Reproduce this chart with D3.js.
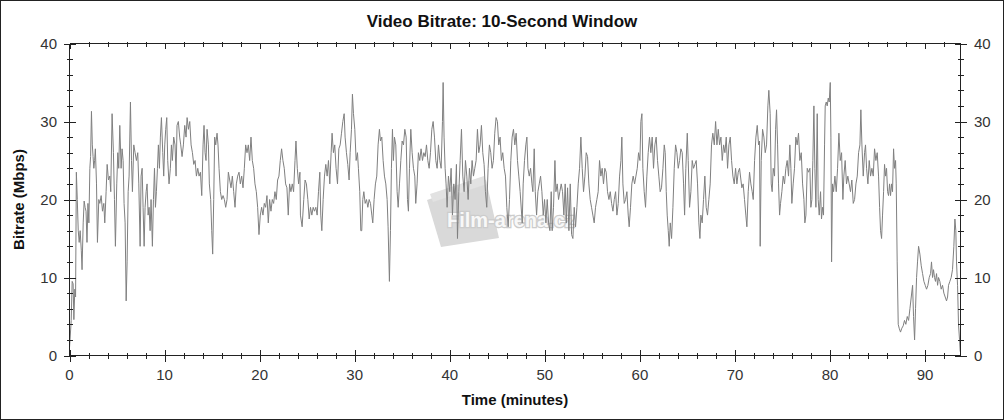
<!DOCTYPE html>
<html>
<head>
<meta charset="utf-8">
<script src="https://cdn.jsdelivr.net/npm/d3@7"></script>
<style>
  html, body { margin: 0; padding: 0; background: #fff; }
  svg { display: block; }
  text { font-family: Arial, "Liberation Sans", sans-serif; }
</style>
</head>
<body>
<svg id="chart" width="1004" height="420"></svg>
<script>
// ---------- DATA ----------
const chartTitle = "Video Bitrate: 10-Second Window";
const xLabel = "Time (minutes)";
const yLabel = "Bitrate (Mbps)";
const xTicks = [0, 10, 20, 30, 40, 50, 60, 70, 80, 90];
const yTicks = [0, 10, 20, 30, 40];
const xMax = 93.72;
const yMax = 40;

const minutes = [
0.00,0.08,0.18,0.28,0.38,0.46,0.56,0.64,0.72,0.82,0.92,1.02,1.12,1.24,1.32,1.44,1.54,1.64,1.74,1.84,1.94,2.04,2.14,2.22,2.31,2.40,2.48,2.56,2.64,2.72,2.84,2.94,
3.08,3.19,3.33,3.47,3.61,3.71,3.85,3.96,4.10,4.24,4.34,4.48,4.62,4.73,4.83,4.97,5.08,5.18,5.29,5.43,5.53,5.64,5.74,5.85,5.96,6.06,6.17,6.27,6.41,6.52,6.62,6.76,6.90,
7.04,7.18,7.29,7.43,7.53,7.64,7.74,7.85,7.95,8.06,8.16,8.27,8.37,8.48,8.58,8.72,8.83,8.94,9.04,9.14,9.25,9.35,9.46,9.56,9.67,9.81,9.91,
10.02,10.12,10.23,10.33,10.47,10.61,10.72,10.82,10.96,11.10,11.21,11.31,11.45,11.59,11.70,11.84,11.98,12.12,12.26,12.37,12.51,12.65,12.79,12.93,
13.07,13.21,13.35,13.49,13.63,13.77,13.91,14.05,14.15,14.26,14.36,14.47,14.61,14.71,14.85,14.96,15.06,15.17,15.27,15.38,15.52,15.62,15.73,15.87,
16.01,16.15,16.29,16.43,16.57,16.71,16.85,16.99,17.13,17.27,17.41,17.55,17.69,17.83,17.97,18.11,18.25,18.39,18.53,18.67,18.81,18.95,
19.09,19.23,19.37,19.51,19.65,19.79,19.93,20.07,20.21,20.35,20.49,20.63,20.77,20.91,21.05,21.19,21.33,21.47,21.61,21.75,21.89,
22.03,22.17,22.31,22.45,22.59,22.73,22.87,23.01,23.15,23.29,23.43,23.57,23.72,23.82,23.96,24.10,24.24,
24.29,24.47,24.64,24.78,24.92,25.07,25.21,25.35,25.49,25.63,25.77,25.91,26.05,26.19,26.33,26.43,26.54,26.68,26.82,26.96,
27.10,27.24,27.38,27.52,27.62,27.76,27.90,28.04,28.19,28.33,28.47,28.61,28.75,28.89,28.99,29.13,29.27,29.41,29.52,29.66,29.76,29.87,
30.01,30.15,30.29,30.39,30.53,30.64,30.74,30.85,30.96,31.10,31.24,31.38,31.52,31.66,31.80,31.90,32.04,32.18,32.32,32.46,32.60,32.71,32.85,32.99,
33.13,33.27,33.41,33.51,33.65,33.76,33.86,33.97,34.07,34.18,34.32,34.46,34.57,34.71,34.85,34.99,35.13,35.27,35.41,35.55,35.65,35.76,35.90,
36.04,36.18,36.32,36.42,36.56,36.70,36.84,36.98,37.13,37.27,37.41,37.55,37.69,37.83,37.97,38.11,38.25,38.39,38.53,38.67,38.81,38.95,
39.09,39.23,39.30,39.40,39.51,39.61,39.72,39.86,40.00,40.14,40.28,40.42,40.56,40.70,40.81,40.95,41.09,41.23,41.37,41.51,41.65,41.79,41.93,
42.07,42.21,42.35,42.49,42.63,42.77,42.91,43.05,43.19,43.33,43.47,43.61,43.75,43.89,44.03,44.17,44.31,44.45,44.59,44.73,44.87,
45.01,45.15,45.29,45.43,45.57,45.72,45.86,46.00,46.14,46.28,46.42,46.56,46.70,46.84,46.98,47.12,47.26,47.40,
47.62,47.72,47.86,48.00,48.11,48.22,48.36,48.50,48.64,48.74,48.88,48.99,49.13,49.27,49.41,49.55,49.69,49.83,49.97,
50.11,50.25,50.39,50.53,50.67,50.77,50.91,51.06,51.16,51.30,51.44,51.58,51.72,51.86,52.00,52.14,52.25,52.39,52.53,52.67,52.81,52.95,
53.09,53.23,53.37,53.51,53.65,53.79,53.93,54.07,54.21,54.35,54.49,54.63,54.77,54.91,55.05,55.19,55.33,55.47,55.61,55.75,55.89,
56.03,56.17,56.31,56.45,56.59,56.74,56.88,57.02,57.16,57.30,57.44,57.58,57.72,57.86,58.00,58.10,58.21,58.35,58.49,58.63,58.77,58.87,
59.01,59.15,59.29,59.44,59.58,59.72,59.86,60.00,60.10,60.21,60.31,60.45,60.59,60.73,60.87,61.01,61.15,61.29,61.43,61.57,61.71,61.85,61.99,
62.13,62.27,62.42,62.56,62.66,62.77,62.87,62.98,63.08,63.19,63.33,63.47,63.61,63.75,63.89,64.03,64.17,64.31,64.45,64.59,64.70,64.83,64.98,
65.08,65.22,65.36,65.50,65.64,65.78,65.92,66.06,66.20,66.31,66.41,66.55,66.69,66.83,66.97,67.11,67.25,67.39,67.53,67.67,67.82,67.96,
68.10,68.24,68.38,68.52,68.66,68.80,68.94,69.08,69.22,69.36,69.50,69.64,69.78,69.92,70.06,70.20,70.34,70.48,
70.72,70.86,71.00,71.14,71.25,71.39,71.53,71.67,71.81,71.92,72.06,72.20,72.34,72.48,72.58,72.65,72.76,72.90,
73.04,73.18,73.32,73.46,73.56,73.70,73.81,73.91,74.02,74.16,74.27,74.37,74.48,74.58,74.69,74.79,74.93,
75.07,75.21,75.35,75.49,75.63,75.77,75.88,75.98,76.12,76.26,76.40,76.54,76.68,76.82,76.97,77.11,77.25,77.35,77.46,77.60,77.74,77.88,77.98,
78.09,78.19,78.30,78.40,78.51,78.65,78.75,78.86,79.00,79.10,79.21,79.31,79.42,79.49,79.60,79.70,79.81,79.91,80.02,80.09,80.16,80.26,80.37,80.51,80.65,80.79,80.93,
81.07,81.21,81.35,81.45,81.59,81.73,81.87,82.01,82.15,82.29,82.44,82.58,82.72,82.86,83.00,83.14,83.24,83.35,83.49,83.63,83.73,83.84,83.98,
84.12,84.26,84.40,84.54,84.68,84.82,84.96,85.10,85.21,85.31,85.42,85.52,85.63,85.73,85.84,85.94,86.05,86.15,86.26,86.36,86.47,86.57,86.68,86.78,86.89,86.96,
87.06,87.17,87.27,87.41,87.55,87.69,87.83,87.97,88.12,88.26,88.40,88.54,88.68,88.78,88.89,88.99,89.10,89.20,89.31,89.45,89.59,89.73,89.87,
90.01,90.15,90.29,90.43,90.57,90.67,90.78,90.88,90.99,91.09,91.20,91.31,91.41,91.55,91.69,91.83,91.97,92.11,92.25,92.36,92.46,92.60,92.74,92.88,
93.02,93.13,93.23,93.30,93.41,93.51,93.62,93.69
];

const mbps = [
1.0,2.5,4.5,9.5,9.2,4.6,8.5,7.5,23.5,20,16,14.5,16,13.5,11,17,19.8,19,18.5,14.5,19.5,17,24,25.5,31.3,27,25.5,24,25,26.5,22,14.5,
20,19.5,20.5,18.5,19.5,17,21,24.5,22.5,23,21,31,26,20,14,22,26,24,29.5,24,26.5,25,19.5,17,7,12,21,23,32.5,25,21,27,26,
25,26,22,14,23,24,19,14,19,21,22,18,19,16,20,14,20,24,19,21,24,27,24,28,30.5,26,23,
27,29,30.5,25,22,24,27,25,28,27,23,29.5,30,28,27,25.5,27,29.5,28,30.5,29,30,27,26,
24.5,25,23,24,23,23.5,20.5,27,29.5,26,25,29,27,22,20,16,13,20,28,27,28.5,27,24,21,
20,20.5,20,19,20,23.5,22.5,21.5,23,21,19,22,23,23.5,22,23,21.5,24,27,26,27,25,
28,25,24,22,21,19,15.5,18,19,18,19.5,19,20.5,17,20,18.5,20,19.5,21,20,22.5,
23,25,26.5,25,24,22,21.5,18,22,21,22,21,25,27.5,24,22,23.5,
18,16.5,20,22.5,22,20,17.5,19,18,19,18.5,19,18,21,23.5,18,16,20,23,24.5,
23,25,22,26,28.5,26,27,24,22,26.5,27,28.5,30,31,28,26,24.5,22.5,26,29,33.5,31,
29,25,26,24,21,16,16,20,21,19.5,20,19,20,19.5,18,17,20,22,23,27,29,27.5,28,25,
23,22,20,16.5,9.5,16,24,29,25,28,27,21,19,22,25,27.5,27,29,28,20,18.5,24,29,
26,24,23,19.5,22,26,25,26.5,25,26,25.5,27,25,24,26,29,30,28,25,24,27,25,
24,30,35,28,24,22,19,23,21,24,18,22,20,24.5,15,21,25,29,23,21,25,23,20,
24,22,25,23,24,25,29,26,27,29.5,26,24.5,21,19,24,27,26,24,25,28.5,30.5,
30,27,28,25,26,24,23,19,16.5,20,25,28,29,27,28.5,25,23,21,
17,22,25,27,28,24,23,24,22,21,26.5,21,18,21,22,23,21,18,20,
17,20,17,16,21,16,19,25,21,22,20,21,22,21,18,22,17,21.5,16,22,15.5,15,
19,16.5,19,22,24,28,24,21,23,26,25.5,22,20,19,18,17,19,20,21,25,23,
24,22,24,23.5,21,20,21,19.5,18.5,20,21,18,19.5,23,25,28,22,19.5,20,21,18,16.5,
19,22,23,22,23,24,26,25,30,31,24,21,19,23,26,28,26,28,24,27,28,25,23,
21,21.5,24,27,26,21,18,16,14,17,15,19,24,27,26,24,25,26.5,26,22,18,24,28.5,
25,19,21,25,24,24.5,25,22,17,15,18,17,20,23,19,18,20,22,27,28.5,27,30,
27,29,27,28,25,27,26,28,24,27,28,25,23,22,24,22,23.5,24,
21.5,22,20,18,16.5,21,23.5,22,21,20,25,28,29.5,27,27.5,14,25,29,
28,26,27,32,34,31,22,21,24,23,29,31.5,27,22,18,19.5,21,
23,22,24,25,23,27,24,19.5,22,24,28,27,28.5,25,26,22,20,17,18,24,23.5,24,19,
20,25,32,24,19,31,20,18,21,17.5,19,18,27,32,32.5,32,33,32.5,35,28,12,22,21,23,21,24,28.5,
25,26,20,23,25,22,23,22,21,22.5,19.5,20,22,23,26,27,31.5,27,23,26,27,24,22,
25,23,24,23,26.5,25,26,23,19,16,15,18,21,24.5,23,24,21,20.5,22,20.5,22,21,26.5,24,25,22,
12,4,3.5,3,3.5,3.8,4.5,4,5,4.5,6,7.5,9,5,2,6,10,12,14,13,11.5,10.5,9.5,
9,8.5,9,10,10.5,12,10,11,10,9.5,10.5,9,10,9.5,8.5,9,8,7.5,7,7.5,9,9.5,10,11,
14,17.5,16,12,9,4,2,0.5
];

// ---------- LAYOUT ----------
const W = 1004, H = 420;
const plot = { left: 69.5, right: 960.5, top: 43.5, bottom: 355.5 };

const svg = d3.select("#chart");
const x = d3.scaleLinear().domain([0, xMax]).range([plot.left, plot.right]);
const y = d3.scaleLinear().domain([0, yMax]).range([plot.bottom, plot.top]);

// background
svg.append("rect").attr("x", 0).attr("y", 0).attr("width", W).attr("height", H).attr("fill", "#fff");

// watermark (film-arena.cz)
const wm = svg.append("g").attr("class", "watermark");
wm.append("polygon")
  .attr("points", "427,200 486,180 499,238 441,247")
  .attr("fill", "#d9d9d9");
wm.append("polygon")
  .attr("points", "430,194 484,176 487,184 433,202")
  .attr("fill", "#e2e2e2");
wm.append("text")
  .attr("x", 447).attr("y", 227)
  .attr("font-size", 20).attr("font-weight", "bold")
  .attr("fill", "#f8f8f8").attr("stroke", "#cccccc").attr("stroke-width", 2.5)
  .attr("paint-order", "stroke")
  .text("Film-arena.cz");

// data line
const n = Math.min(minutes.length, mbps.length);
const pts = d3.range(n).map(i => [minutes[i], mbps[i]]);
svg.append("path")
  .datum(pts)
  .attr("fill", "none")
  .attr("stroke", "#808080")
  .attr("stroke-width", 1)
  .attr("stroke-linejoin", "round")
  .attr("d", d3.line().x(d => x(d[0])).y(d => y(d[1])));

// axes frame lines
const axisColor = "#222";
const g = svg.append("g").attr("stroke", axisColor).attr("stroke-width", 1).attr("shape-rendering", "crispEdges");
g.append("line").attr("x1", plot.left).attr("x2", plot.right).attr("y1", plot.bottom).attr("y2", plot.bottom);
g.append("line").attr("x1", plot.left).attr("x2", plot.right).attr("y1", plot.top).attr("y2", plot.top);
g.append("line").attr("x1", plot.left).attr("x2", plot.left).attr("y1", plot.top).attr("y2", plot.bottom);
g.append("line").attr("x1", plot.right).attr("x2", plot.right).attr("y1", plot.top).attr("y2", plot.bottom);

// y ticks (left & right), crossing the axis
const yMinor = d3.range(0, yMax + 0.001, 2).filter(v => !yTicks.includes(v));
[plot.left, plot.right].forEach(ax => {
  yTicks.forEach(v => {
    g.append("line").attr("x1", ax - 6).attr("x2", ax + 6)
      .attr("y1", Math.round(y(v)) + 0.5).attr("y2", Math.round(y(v)) + 0.5);
  });
  yMinor.forEach(v => {
    g.append("line").attr("x1", ax - 3).attr("x2", ax + 3)
      .attr("y1", Math.round(y(v)) + 0.5).attr("y2", Math.round(y(v)) + 0.5);
  });
});

// x ticks bottom (crossing) and top (inward)
const xMinor = d3.range(0, xMax, 2).filter(v => !xTicks.includes(v));
xTicks.forEach(v => {
  const px = Math.round(x(v)) + 0.5;
  g.append("line").attr("x1", px).attr("x2", px).attr("y1", plot.bottom - 6).attr("y2", plot.bottom + 6);
  g.append("line").attr("x1", px).attr("x2", px).attr("y1", plot.top).attr("y2", plot.top + 5);
});
xMinor.forEach(v => {
  const px = Math.round(x(v)) + 0.5;
  g.append("line").attr("x1", px).attr("x2", px).attr("y1", plot.bottom - 3).attr("y2", plot.bottom + 3);
  g.append("line").attr("x1", px).attr("x2", px).attr("y1", plot.top - 2).attr("y2", plot.top + 3);
});

// tick labels
const labelColor = "#333";
yTicks.forEach(v => {
  svg.append("text").attr("x", 57).attr("y", y(v)).attr("dy", "0.36em")
    .attr("text-anchor", "end").attr("font-size", 15).attr("fill", labelColor).text(v);
  svg.append("text").attr("x", 974).attr("y", y(v)).attr("dy", "0.36em")
    .attr("text-anchor", "start").attr("font-size", 15).attr("fill", labelColor).text(v);
});
xTicks.forEach(v => {
  svg.append("text").attr("x", x(v)).attr("y", 380)
    .attr("text-anchor", "middle").attr("font-size", 15).attr("fill", labelColor).text(v);
});

// titles
svg.append("text").attr("x", 502).attr("y", 27).attr("text-anchor", "middle")
  .attr("font-size", 17).attr("font-weight", "bold").attr("fill", "#111").text(chartTitle);
svg.append("text").attr("x", (plot.left + plot.right) / 2).attr("y", 405).attr("text-anchor", "middle")
  .attr("font-size", 15).attr("font-weight", "bold").attr("fill", "#111").text(xLabel);
svg.append("text")
  .attr("transform", `translate(24,${(plot.top + plot.bottom) / 2}) rotate(-90)`)
  .attr("text-anchor", "middle")
  .attr("font-size", 15).attr("font-weight", "bold").attr("fill", "#111").text(yLabel);

// outer frame
svg.append("rect").attr("x", 0.5).attr("y", 0.5).attr("width", W - 1).attr("height", H - 1)
  .attr("fill", "none").attr("stroke", "#222").attr("stroke-width", 1);
</script>
</body>
</html>
